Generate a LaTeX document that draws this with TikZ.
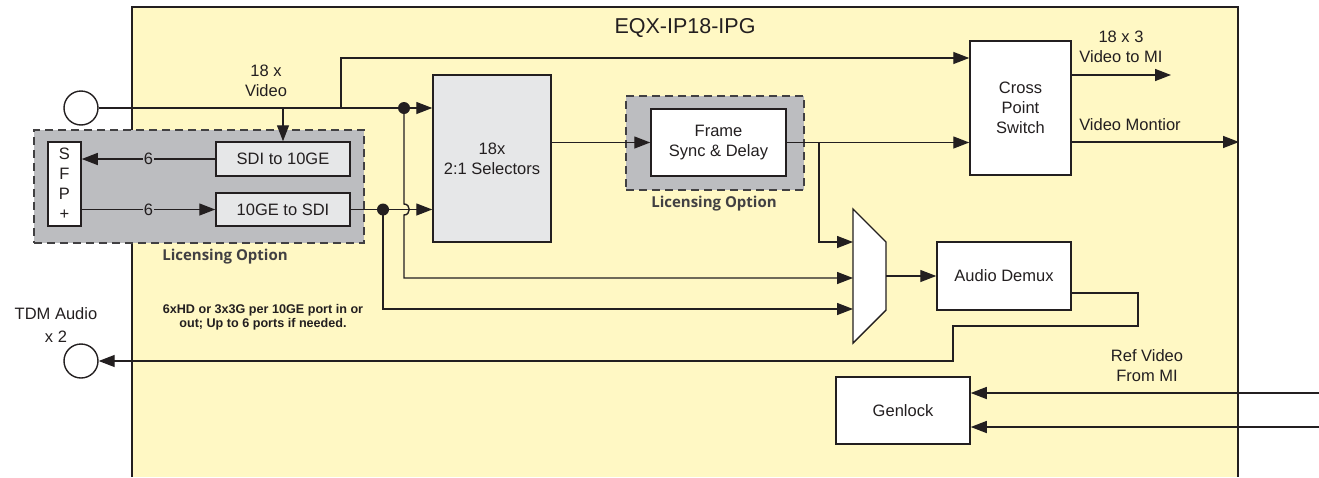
\documentclass[tikz,border=0pt]{standalone}
\usepackage{fontspec}
\setmainfont{Liberation Sans}
\newfontfamily\licfont{Open Sans}
\usetikzlibrary{arrows.meta}
\definecolor{bgyellow}{RGB}{255,248,196}
\definecolor{licgray}{RGB}{188,189,192}
\definecolor{boxgray}{RGB}{230,231,232}
\definecolor{ink}{RGB}{35,31,32}
\definecolor{licink}{RGB}{65,64,66}
\begin{document}
\begin{tikzpicture}[x=1pt,y=-1pt,
  every node/.style={text=ink},
  wire/.style={draw=ink,line width=1.4pt},
  arr/.style={wire,-{Triangle[length=16pt,width=12pt]}},
  blk/.style={draw=ink,line width=1.5pt,inner sep=0pt,align=center,
              font=\fontsize{16.5}{20}\selectfont},
  whitebox/.style={blk,fill=white},
  graybox/.style={blk,fill=boxgray},
  licbox/.style={draw=licink,fill=licgray,line width=2pt,dash pattern=on 8pt off 5pt,inner sep=0pt},
  lictext/.style={text=licink,font=\licfont\bfseries\fontsize{15}{18}\selectfont},
  lbl/.style={font=\fontsize{16.5}{20}\selectfont,align=center,inner sep=0pt},
  six/.style={font=\fontsize{16.5}{20}\selectfont,fill=licgray,inner sep=0.5pt},
  port/.style={circle,draw=ink,line width=1.4pt,fill=white,minimum size=34pt,inner sep=0pt},
  dot/.style={circle,fill=ink,minimum size=12pt,inner sep=0pt}
]
\useasboundingbox (0,0) rectangle (1319,477);
% main enclosure
\fill[bgyellow] (132,7) rectangle (1238,477);
\draw[draw=ink,line width=1.3pt] (132,477) -- (132,7) -- (1238,7) -- (1238,477);
\node[font=\fontsize{21.5}{24}\selectfont] (title) at (685,28) {EQX-IP18-IPG};

% licensing option areas
\node[licbox,minimum width=330pt,minimum height=113pt] (lic1) at (199,186.5) {};
\node[lictext] (lic1t) at (225,257) {Licensing Option};
\node[licbox,minimum width=178pt,minimum height=94pt] (lic2) at (715,143) {};
\node[lictext] (lic2t) at (714,204) {Licensing Option};

% blocks
\node[whitebox,minimum width=33pt,minimum height=84pt] (sfp) at (64.5,184) {S\\F\\P\\+};
\node[graybox,minimum width=134pt,minimum height=34pt] (sdi2ge) at (283,159) {SDI to 10GE};
\node[graybox,minimum width=134pt,minimum height=33pt] (ge2sdi) at (283,209.5) {10GE to SDI};
\node[graybox,minimum width=118pt,minimum height=167pt] (sel) at (492,158.5) {18x\\2:1 Selectors};
\node[whitebox,minimum width=135pt,minimum height=67pt] (fsync) at (718.5,142.5) {Frame\\Sync \& Delay};
\node[whitebox,minimum width=101pt,minimum height=134pt] (xps) at (1020.5,108) {Cross\\Point\\Switch};
\node[whitebox,minimum width=134pt,minimum height=68pt] (demux) at (1004,276) {Audio Demux};
\node[whitebox,minimum width=134pt,minimum height=67pt] (genlock) at (903,410.5) {Genlock};

% ports
\node[port] (cin) at (81,108) {};
\node[port] (cout) at (81,361) {};

% mux
\draw[draw=ink,line width=1.4pt,fill=white] (853,209) -- (886,242) -- (886,310) -- (853,343) -- cycle;
\coordinate (mi1) at (853,242);
\coordinate (mi2) at (853,278);
\coordinate (mi3) at (853,309);
\coordinate (mo) at (886,276);

% junction dots and bends
\node[dot] (d1) at (404,108) {};
\node[dot] (d2) at (383,209.5) {};
\coordinate (b1) at (341,108);
\coordinate (b1u) at (341,58);
\coordinate (b2) at (283,108);
\coordinate (b3) at (819,142.5);
\coordinate (dout) at (1071,293);
\coordinate (xo1) at (1071,75);
\coordinate (xo1e) at (1171,75);
\coordinate (xo2) at (1071,142);
\coordinate (xo2e) at (1239,142);
\coordinate (ref1) at (1319,393);
\coordinate (ref2) at (1319,427);

% connectors
\draw[arr] (cin.east) -- (cin.east -| sel.west);
\draw[arr] (b1) -- (b1u) -- (b1u -| xps.west);
\draw[arr] (b2) -- (sdi2ge.north);
\draw[arr] (sdi2ge.west) -- (sdi2ge.west -| sfp.east) node[six,midway] {6};
\draw[arr] (sfp.east |- ge2sdi.west) -- (ge2sdi.west) node[six,midway] {6};
\draw[arr] (ge2sdi.east) -- (ge2sdi.east -| sel.west);
\draw[arr] (d1.center) -- (404,204) .. controls (411,204) and (411,215) .. (404,215) -- (404,278) -- (mi2);
\draw[arr] (d2.center) -- (383,309) -- (mi3);
\draw[arr] (sel.east |- fsync.west) -- (fsync.west);
\draw[arr] (fsync.east) -- (fsync.east -| xps.west);
\draw[arr] (b3) -- (819,242) -- (mi1);
\draw[arr] (mo) -- (demux.west);
\draw[arr] (dout) -- (1138,293) -- (1138,326) -- (953,326) -- (953,361) -- (cout.east);
\draw[arr] (xo1) -- (xo1e);
\draw[arr] (xo2) -- (xo2e);
\draw[arr] (ref1) -- (ref1 -| genlock.east);
\draw[arr] (ref2) -- (ref2 -| genlock.east);

% labels
\node[lbl] (l18v) at (266,81) {18 x\\Video};
\node[lbl] (l183) at (1121,46.5) {18 x 3\\Video to MI};
\node[lbl] (lvm) at (1130,125) {Video Montior};
\node[lbl] (lref) at (1147,365.5) {Ref Video\\From MI};
\node[lbl] (ltdm1) at (56,314) {TDM Audio};
\node[lbl] (ltdm2) at (56,337) {x 2};
\node[font=\bfseries\fontsize{12.6}{14}\selectfont,align=center,inner sep=0pt] (note) at (263,317)
  {6xHD or 3x3G per 10GE port in or\\out; Up to 6 ports if needed.};
\end{tikzpicture}
\end{document}
